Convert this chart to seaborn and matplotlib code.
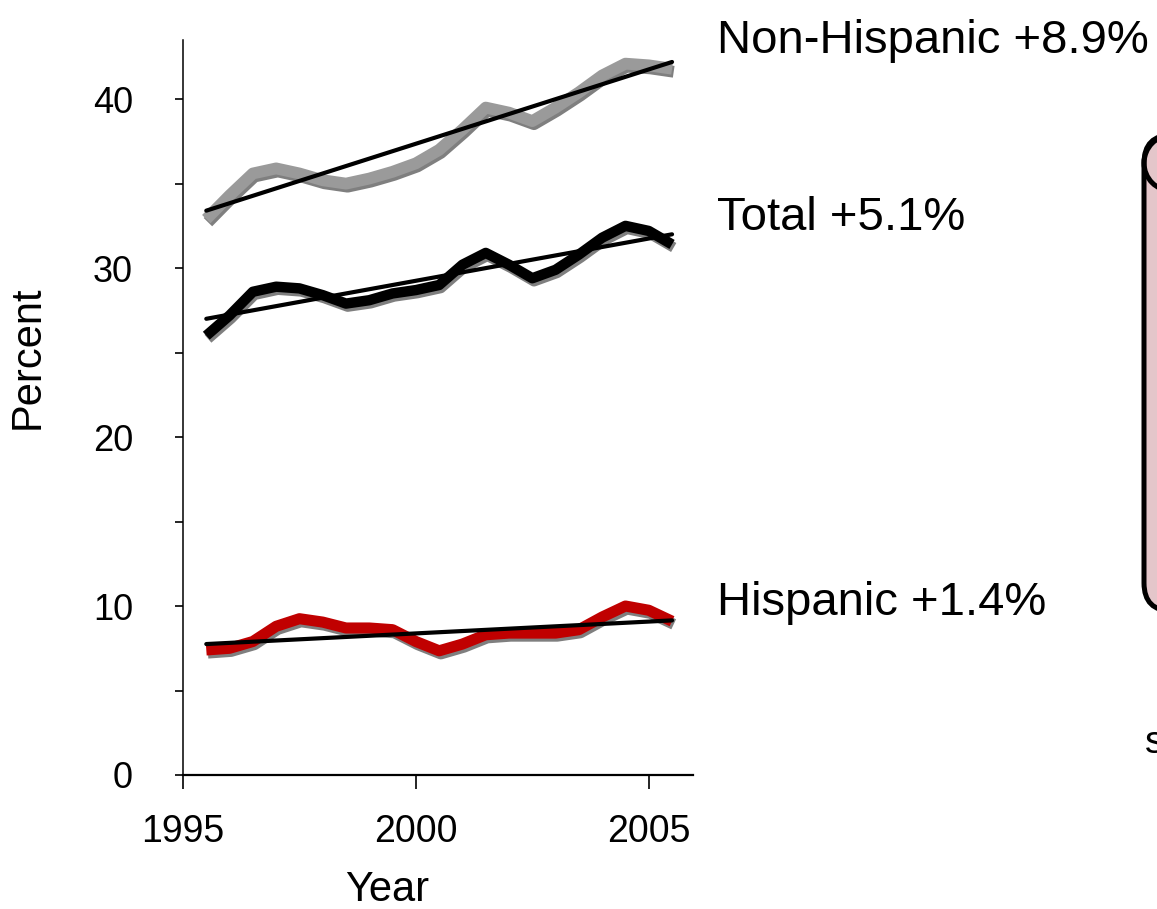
import numpy as np
import pandas as pd
import seaborn as sns
import matplotlib.pyplot as plt
import matplotlib.patheffects as pe
from matplotlib.patches import FancyBboxPatch, Circle

# values (half-year steps)
years = [1995.5, 1996.0, 1996.5, 1997.0, 1997.5, 1998.0, 1998.5, 1999.0, 1999.5, 2000.0, 2000.5,
         2001.0, 2001.5, 2002.0, 2002.5, 2003.0, 2003.5, 2004.0, 2004.5, 2005.0, 2005.5]
non_hispanic = [32.9, 34.3, 35.6, 35.9, 35.6, 35.2, 35.0, 35.3, 35.7, 36.2, 37.0,
                38.2, 39.5, 39.2, 38.7, 39.5, 40.4, 41.4, 42.1, 42.0, 41.8]
total = [26.0, 27.2, 28.6, 28.9, 28.8, 28.4, 27.9, 28.1, 28.5, 28.7, 29.0,
         30.2, 30.9, 30.2, 29.4, 29.9, 30.8, 31.8, 32.5, 32.2, 31.4]
hispanic = [7.4, 7.5, 7.9, 8.8, 9.25, 9.05, 8.7, 8.7, 8.6, 7.9, 7.35,
            7.75, 8.3, 8.4, 8.4, 8.4, 8.6, 9.35, 10.0, 9.75, 9.1]

trend_years = [1995.5, 2005.5]
trend_non_hispanic = [33.4, 42.2]
trend_total = [27.0, 32.0]
trend_hispanic = [7.75, 9.15]

labels = ["Non-Hispanic +8.9%", "Total +5.1%", "Hispanic +1.4%"]

sns.set_style("ticks")
plt.rcParams['font.family'] = ['Liberation Sans', 'DejaVu Sans']
plt.rcParams.update({"text.color": "black", "axes.labelcolor": "black",
                     "xtick.color": "black", "ytick.color": "black",
                     "axes.edgecolor": "black"})

W, H = 1157, 909
fig = plt.figure(figsize=(W / 100, H / 100), dpi=100)
ax = fig.add_axes([183 / W, 1 - 775 / H, 510 / W, 735 / H])

df = pd.DataFrame({"year": years, "Non-Hispanic": non_hispanic,
                   "Total": total, "Hispanic": hispanic})

def shadow():
    return [pe.SimpleLineShadow(offset=(1.2, -2.2), shadow_color="#7f7f7f", alpha=1.0),
            pe.Normal()]

style = dict(solid_capstyle="butt", solid_joinstyle="round")
sns.lineplot(data=df, x="year", y="Non-Hispanic", ax=ax, color="#9a9a9a", lw=8.5,
             path_effects=shadow(), **style)
sns.lineplot(data=df, x="year", y="Total", ax=ax, color="black", lw=7.5,
             path_effects=shadow(), **style)
sns.lineplot(data=df, x="year", y="Hispanic", ax=ax, color="#c00000", lw=8,
             path_effects=shadow(), **style)

for tr in [trend_non_hispanic, trend_total, trend_hispanic]:
    sns.lineplot(x=trend_years, y=tr, ax=ax, color="black", lw=3)

ax.set_xlim(1995, 2005.95)
ax.set_ylim(0, 43.5)
ax.set_xticks([1995, 2000, 2005])
ax.set_yticks([0, 10, 20, 30, 40])
ax.set_yticks([5, 15, 25, 35], minor=True)
ax.tick_params(axis="x", length=10, width=1.2, labelsize=27, pad=18)
ax.tick_params(axis="y", which="both", length=6, width=1.2, labelsize=26, pad=30)
ax.set_xlabel("")
ax.set_ylabel("")
sns.despine(ax=ax)
ax.spines["bottom"].set_linewidth(1.6)
ax.spines["left"].set_linewidth(1.1)

fig.text(387 / W, 1 - 890 / H, "Year", fontsize=30, ha="center", va="center")
fig.text(28 / W, 1 - 357 / H, "Percent", fontsize=30, ha="center", va="center", rotation=90)

for lab, base in zip(labels, [53, 230, 615]):
    fig.text(717 / W, 1 - base / H, lab, fontsize=34, ha="left", va="baseline")

# overlay in pixel coordinates for the cut-off scroll box
ov = fig.add_axes([0, 0, 1, 1], facecolor="none")
ov.set_xlim(0, W)
ov.set_ylim(H, 0)
ov.axis("off")
ov.add_patch(FancyBboxPatch((1144, 135), 200, 476, boxstyle="round,pad=0,rounding_size=28",
                            facecolor="#e4c6ca", edgecolor="black", lw=3.6))
ov.add_patch(Circle((1172, 163), 28, facecolor="none", edgecolor="black", lw=3.6))
fig.text(1145 / W, 1 - 753 / H, "s", fontsize=28, ha="left", va="baseline")

fig.savefig("out.png", dpi=100)
